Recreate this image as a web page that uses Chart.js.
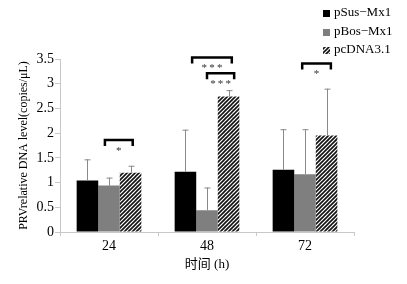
<!DOCTYPE html>
<html>
<head>
<meta charset="utf-8">
<script src="https://cdn.jsdelivr.net/npm/chart.js@4"></script>
<style>
  html, body { margin: 0; padding: 0; background: #fff; }
  #wrap { width: 407px; height: 284px; }
</style>
</head>
<body>
<div id="wrap"><canvas id="chart" width="407" height="284"></canvas></div>
<script>
const categories = ["24", "48", "72"]
const seriesLabels = ["pSus\u2212Mx1", "pBos\u2212Mx1", "pcDNA3.1"]

// bar means (copies/uL) and upper error
const pSusMeans = [1.04, 1.22, 1.26]
const pSusErr = [0.43, 0.85, 0.82]
const pBosMeans = [0.94, 0.44, 1.17]
const pBosErr = [0.16, 0.46, 0.91]
const pcMeans = [1.20, 2.74, 1.95]
const pcErr = [0.14, 0.13, 0.95]

const yTicks = [0, 0.5, 1, 1.5, 2, 2.5, 3, 3.5]

// significance brackets: group index, span in bar slots (bar i covers i..i+1), height in data units
const bracketGroups = [0, 1, 1, 2]
const bracketFrom = [1.31, 0.81, 1.5, 1.37]
const bracketTo = [2.6, 2.65, 2.76, 2.7]
const bracketY = [1.86, 3.53, 3.21, 3.41]
const bracketLabels = ["*", "***", "***", "*"]

const SERIF = "'Liberation Serif', 'Times New Roman', serif"

function hatchPattern() {
  const c = document.createElement("canvas")
  c.width = 8
  c.height = 8
  const g = c.getContext("2d")
  g.fillStyle = "#fff"
  g.fillRect(0, 0, 8, 8)
  g.strokeStyle = "#111"
  g.lineWidth = 1.6
  for (let k = -8; k <= 16; k += 4) {
    g.beginPath()
    g.moveTo(k - 2, 10)
    g.lineTo(k + 10, -2)
    g.stroke()
  }
  return g.createPattern(c, "repeat")
}

const ctx = document.getElementById("chart").getContext("2d")
const hatch = hatchPattern()

const errorBars = {
  id: "errorBars",
  afterDatasetsDraw(chart) {
    const c = chart.ctx
    const y = chart.scales.y
    c.save()
    c.strokeStyle = "#8a8a8a"
    c.lineWidth = 1
    chart.data.datasets.forEach((ds, di) => {
      const meta = chart.getDatasetMeta(di)
      meta.data.forEach((bar, i) => {
        const top = y.getPixelForValue(ds.data[i] + ds.errors[i])
        const x = Math.round(bar.x) + 0.5
        c.beginPath()
        c.moveTo(x, bar.y)
        c.lineTo(x, top)
        c.moveTo(x - 3, top + 0.5)
        c.lineTo(x + 3, top + 0.5)
        c.stroke()
      })
    })
    c.restore()
  }
}

const brackets = {
  id: "brackets",
  afterDatasetsDraw(chart) {
    const c = chart.ctx
    const y = chart.scales.y
    const meta0 = chart.getDatasetMeta(0)
    c.save()
    bracketGroups.forEach((g, k) => {
      const first = meta0.data[g]
      const w = first.width
      const left = first.x - w / 2
      const x1 = left + bracketFrom[k] * w
      const x2 = left + bracketTo[k] * w
      const py = y.getPixelForValue(bracketY[k])
      c.strokeStyle = "#000"
      c.lineWidth = 2.5
      c.lineJoin = "miter"
      c.beginPath()
      c.moveTo(x1, py + 6)
      c.lineTo(x1, py)
      c.lineTo(x2, py)
      c.lineTo(x2, py + 6)
      c.stroke()
      c.fillStyle = "#333"
      c.font = "11px " + SERIF
      c.textAlign = "center"
      c.textBaseline = "middle"
      c.fillText(bracketLabels[k].split("").join("\u2009"), (x1 + x2) / 2, py + 11)
    })
    c.restore()
  }
}

const sideLegend = {
  id: "sideLegend",
  afterDraw(chart) {
    const c = chart.ctx
    const rows = [13, 32, 50]
    c.save()
    c.font = "13px " + SERIF
    c.textBaseline = "middle"
    c.textAlign = "left"
    chart.data.datasets.forEach((ds, i) => {
      const ry = rows[i]
      c.fillStyle = ds.backgroundColor
      c.fillRect(323, ry - 3, 7, 7)
      c.fillStyle = "#000"
      c.fillText(ds.label, 334, ry)
    })
    c.restore()
  }
}

new Chart(ctx, {
  type: "bar",
  data: {
    labels: categories,
    datasets: [
      { label: seriesLabels[0], data: pSusMeans, errors: pSusErr, backgroundColor: "#000", borderWidth: 0 },
      { label: seriesLabels[1], data: pBosMeans, errors: pBosErr, backgroundColor: "#7f7f7f", borderWidth: 0 },
      { label: seriesLabels[2], data: pcMeans, errors: pcErr, backgroundColor: hatch, borderWidth: 0 }
    ]
  },
  options: {
    responsive: false,
    animation: false,
    devicePixelRatio: 1,
    categoryPercentage: 0.66,
    barPercentage: 1.0,
    layout: { padding: { top: 59, right: 53, left: 0, bottom: 0 } },
    plugins: {
      legend: { display: false },
      tooltip: { enabled: false }
    },
    scales: {
      x: {
        grid: { display: true, drawOnChartArea: false, offset: true, color: "#c8c8c8", tickLength: 4 },
        border: { color: "#c8c8c8" },
        ticks: { color: "#000", font: { family: SERIF, size: 14 }, padding: 2 },
        title: {
          display: true,
          text: "\u65f6\u95f4 (h)",
          color: "#000",
          font: { family: "'Liberation Serif', 'Noto Sans CJK SC', serif", size: 13 },
          padding: { top: 0, bottom: 12 }
        },
        afterFit(scale) { scale.height = 52 }
      },
      y: {
        min: 0,
        max: 3.5,
        afterBuildTicks(scale) { scale.ticks = yTicks.map((v) => ({ value: v })) },
        grid: { display: true, drawOnChartArea: false, color: "#c8c8c8", tickLength: 5 },
        border: { color: "#c8c8c8" },
        ticks: { color: "#000", font: { family: SERIF, size: 14 }, padding: 1, callback: (v) => String(v) },
        title: {
          display: true,
          text: "PRVrelative DNA level(copies/\u03bcL)",
          color: "#000",
          font: { family: SERIF, size: 12 },
          padding: { top: 17, bottom: 0 }
        },
        afterFit(scale) { scale.width = 60 }
      }
    }
  },
  plugins: [errorBars, brackets, sideLegend]
})
</script>
</body>
</html>
